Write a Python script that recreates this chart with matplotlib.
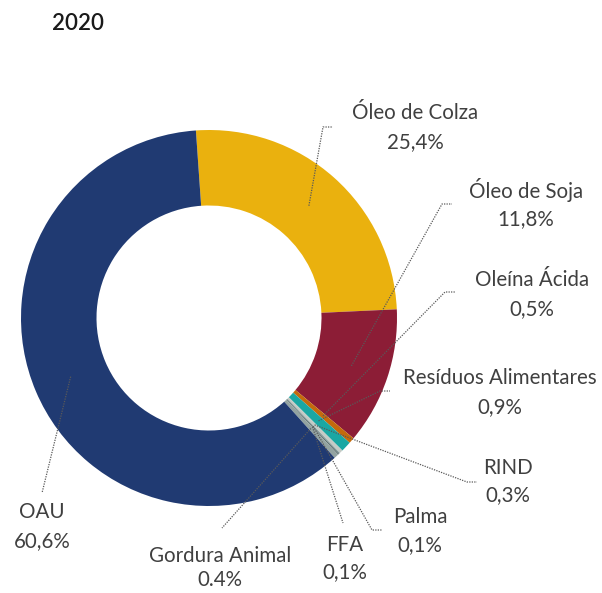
import matplotlib.pyplot as plt
import numpy as np

# Matérias-primas para biocombustíveis, 2020 (%)
labels = ['Óleo de Colza', 'Óleo de Soja', 'Oleína Ácida', 'Resíduos Alimentares',
          'RIND', 'Palma', 'FFA', 'Gordura Animal', 'OAU']
values = [25.4, 11.8, 0.5, 0.9, 0.3, 0.1, 0.1, 0.4, 60.6]
value_text = ['25,4%', '11,8%', '0,5%', '0,9%', '0,3%', '0,1%', '0,1%', '0.4%', '60,6%']
colors = ['#EAB10E', '#8C1D36', '#C46A0C', '#1AA7A3', '#C5CBC6', '#7E9696',
          '#566868', '#93A3A1', '#203A72']

W, H = 602, 593
fig = plt.figure(figsize=(W / 100, H / 100), dpi=100)
ax = fig.add_axes([0, 0, 1, 1])

cx, cy = 209, H - 318
R_out, R_in = 188, 112.5
wedges, _ = ax.pie(values, colors=colors, startangle=94, counterclock=False,
                   center=(cx, cy), radius=R_out, frame=True,
                   wedgeprops=dict(width=R_out - R_in, linewidth=0))

ax.set_xlim(0, W)
ax.set_ylim(0, H)
ax.set_aspect('equal')
ax.axis('off')

# label centre (x, y of first line, second line) and leader path (y from top)
label_pos = [(415, 113, 142), (526, 190, 219), (532, 280, 309), (500, 378, 407),
             (508, 468, 495), (420, 517, 545), (345, 545, 572), (220, 556, 580),
             (42, 512, 541)]
leaders = [[(323, 127), (333, 127)], [(442, 204), (452, 204)],
           [(445, 292), (455, 292)], [(380, 391), (390, 391)],
           [(467, 482), (477, 482)], [(372, 530), (382, 530)],
           [(343, 523)], [(222, 528)], [(42, 493)]]

txt = dict(fontsize=14.8, color='#404040', ha='center', va='center', family='Lato')
r_mid = (R_out + R_in) / 2
for w, lab, vt, (lx, ly1, ly2), path in zip(wedges, labels, value_text, label_pos, leaders):
    ang = np.deg2rad((w.theta1 + w.theta2) / 2)
    ax0, ay0 = cx + r_mid * np.cos(ang), cy + r_mid * np.sin(ang)
    xs = [ax0] + [p[0] for p in path]
    ys = [ay0] + [H - p[1] for p in path]
    ax.plot(xs, ys, color='#595959', lw=0.9, ls=(0, (1, 1)))
    ax.text(lx, H - ly1, lab, **txt)
    ax.text(lx, H - ly2, vt, **txt)

ax.text(78, H - 24, '2020', fontsize=16, fontweight='semibold', color='#1a1a1a',
        ha='center', va='center', family='Lato')

fig.savefig('out.png', dpi=100)
